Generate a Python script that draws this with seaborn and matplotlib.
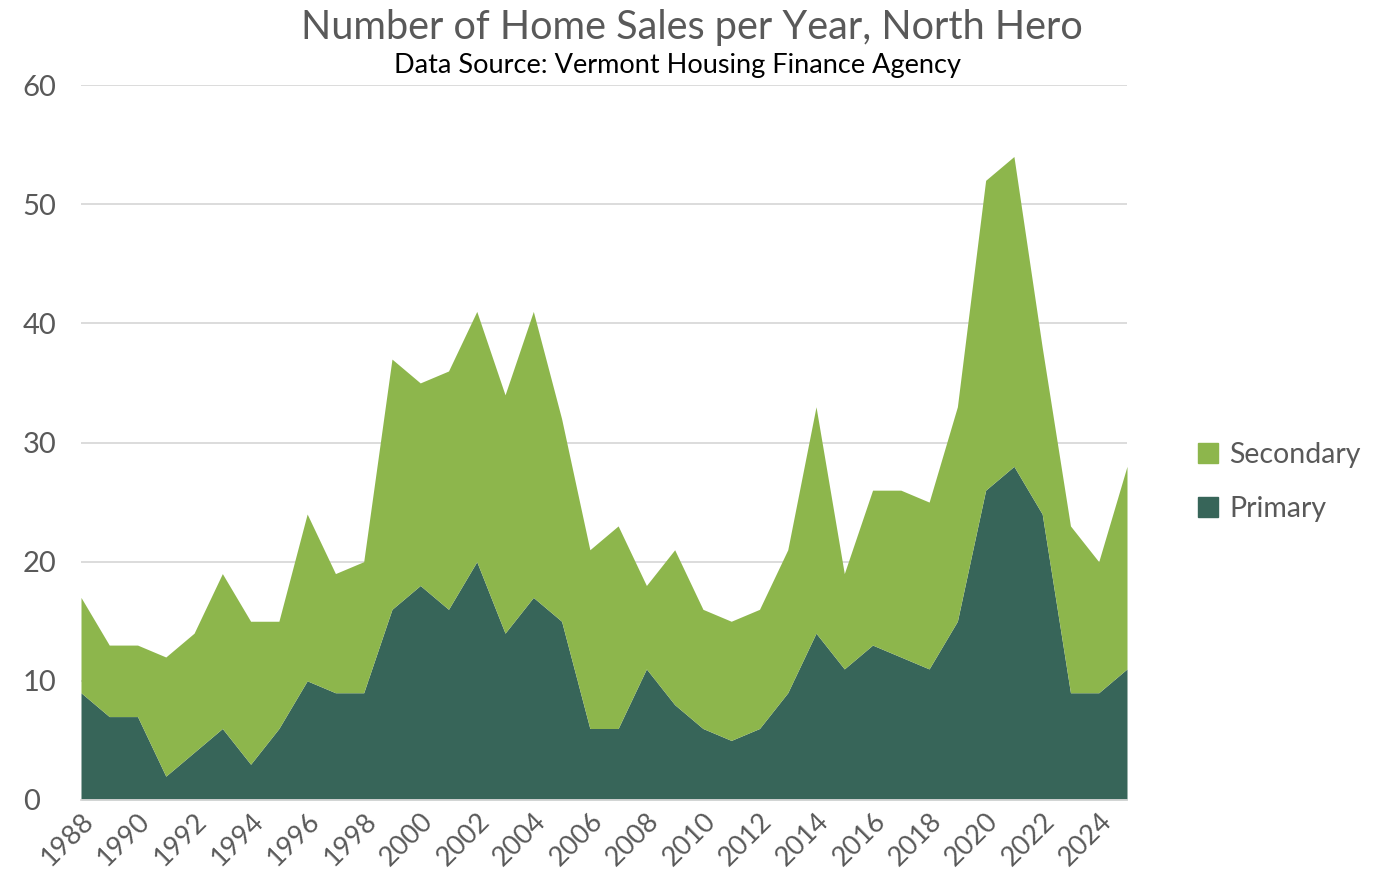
import numpy as np
import pandas as pd
import matplotlib
matplotlib.use("Agg")
import matplotlib.pyplot as plt
import seaborn as sns
from matplotlib.patches import Patch

years = list(range(1988, 2026))
primary = [9, 7, 7, 2, 4, 6, 3, 6, 10, 9, 9, 16, 18, 16, 20, 14, 17, 15, 6, 6,
           11, 8, 6, 5, 6, 9, 14, 11, 13, 12, 11, 15, 26, 28, 24, 9, 9, 11]
total = [17, 13, 13, 12, 14, 19, 15, 15, 24, 19, 20, 37, 35, 36, 41, 34, 41, 32, 21, 23,
         18, 21, 16, 15, 16, 21, 33, 19, 26, 26, 25, 33, 52, 54, 38, 23, 20, 28]
secondary = [t - p for t, p in zip(total, primary)]
series_names = ["Primary", "Secondary"]
colors = ["#376559", "#8DB64C"]
tick_years = list(range(1988, 2025, 2))
yticks = [0, 10, 20, 30, 40, 50, 60]

df = pd.DataFrame({"Year": years, "Primary": primary, "Secondary": secondary})

sns.set_theme(style="white")
plt.rcParams['font.family'] = ['Lato', 'DejaVu Sans']

fig = plt.figure(figsize=(13.78, 8.85), dpi=100)
ax = fig.add_axes([81/1378, 1-800/885, (1127-81)/1378, (800-85)/885])

ax.stackplot(df["Year"], df["Primary"], df["Secondary"], colors=colors,
             labels=series_names, linewidth=0)

ax.set_xlim(1988, 2025)
ax.set_ylim(0, 60)
ax.set_yticks(yticks)
ax.set_xticks(tick_years)
ax.set_xticklabels([str(y) for y in tick_years], rotation=45, ha="right",
                   rotation_mode="anchor", fontsize=19.5, color="#595959")
ax.tick_params(axis="y", labelsize=21, labelcolor="#595959", length=0, pad=42)
ax.tick_params(axis="x", length=0, pad=6)
ax.grid(axis="y", color="#d9d9d9", linewidth=1.3, zorder=0)
ax.set_axisbelow(True)
for s in ["top", "right", "left"]:
    ax.spines[s].set_visible(False)
ax.spines["bottom"].set_color("#d9d9d9")
ax.spines["bottom"].set_linewidth(1.3)
ax.set_xlabel("")
ax.set_ylabel("")
for lbl in ax.get_yticklabels():
    lbl.set_horizontalalignment("left")

handles = [Patch(color=colors[1], label="Secondary"), Patch(color=colors[0], label="Primary")]
fig.legend(handles=handles, loc="center left", bbox_to_anchor=(1172/1378, 1-482/885),
           frameon=False, fontsize=20.5, labelcolor="#595959", handlelength=0.7,
           handleheight=0.7, handletextpad=0.4, labelspacing=1.0)

fig.text(692/1378, 1-27/885, "Number of Home Sales per Year, North Hero",
         ha="center", va="center", fontsize=28.5, color="#595959")
fig.text(677/1378, 1-66/885, "Data Source: Vermont Housing Finance Agency",
         ha="center", va="center", fontsize=19.5, color="black")

fig.savefig("out.png", dpi=100)
